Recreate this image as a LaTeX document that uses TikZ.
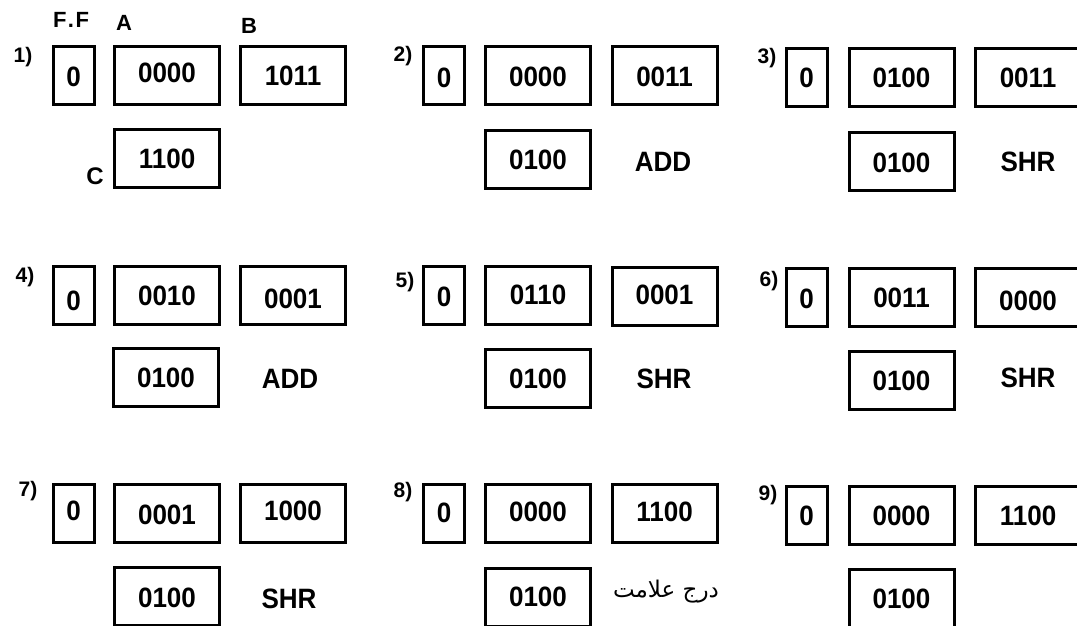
\documentclass[tikz,border=0pt]{standalone}
\usepackage{fontspec}
\setmainfont{Liberation Sans}
\newfontfamily\regfont[FakeStretch=0.93]{Liberation Sans}
\newfontfamily\arabicfont[Script=Arabic]{DejaVu Sans}
\TeXXeTstate=1
\newcommand\shiftdn[2]{\raisebox{-#1pt}[\height][\depth]{#2}}
\tikzset{
  reg/.style={draw, line width=3pt, minimum width=105pt, minimum height=58pt,
    inner sep=0pt, font=\regfont\bfseries\fontsize{28pt}{28pt}\selectfont},
  ffbox/.style={reg, minimum width=41pt},
  lab/.style={inner sep=0pt, font=\bfseries\fontsize{21pt}{21pt}\selectfont},
  hdr/.style={inner sep=0pt, font=\bfseries\fontsize{22pt}{22pt}\selectfont},
  op/.style={inner sep=0pt, font=\regfont\bfseries\fontsize{28pt}{28pt}\selectfont},
}
\begin{document}
\begin{tikzpicture}[x=1pt, y=-1pt]
\useasboundingbox (0,0) rectangle (1077,626);
\clip (0,0) rectangle (1077,626);
% header labels
\node[hdr] (hff) at (71,20) {F\kern1.5pt.\kern1.5pt F};
\node[hdr] (ha) at (124,22.5) {A};
\node[hdr] (hb) at (249,25.5) {B};
\node[hdr, font=\bfseries\fontsize{24pt}{24pt}\selectfont] (hc) at (95,176) {C};
% step numbers
\node[lab] (l1) at (23,57) {1)};
\node[lab] (l2) at (403,56) {2)};
\node[lab] (l3) at (767,58) {3)};
\node[lab] (l4) at (25,277) {4)};
\node[lab] (l5) at (405,282) {5)};
\node[lab] (l6) at (769,281) {6)};
\node[lab] (l7) at (28,491) {7)};
\node[lab] (l8) at (403,492) {8)};
\node[lab] (l9) at (768,495) {9)};
% panel 1
\node[ffbox] (p1f) at (73.5,75.5) {\shiftdn{1.5}{0}};
\node[reg] (p1a) at (167,75.5) {\shiftdn{-2.5}{0000}};
\node[reg] (p1b) at (293,75.5) {1011};
\node[reg] (p1c) at (167,158.5) {1100};
% panel 2
\node[ffbox] (p2f) at (444,75.5) {\shiftdn{2.5}{0}};
\node[reg] (p2a) at (538,75.5) {\shiftdn{1.5}{0000}};
\node[reg] (p2b) at (664.5,75.5) {\shiftdn{1.5}{0011}};
\node[reg] (p2c) at (538,159) {\shiftdn{1}{0100}};
\node[op] (o2) at (663,162) {ADD};
% panel 3
\node[ffbox] (p3f) at (806.5,77.5) {0};
\node[reg] (p3a) at (901.5,77.5) {0100};
\node[reg] (p3b) at (1028,77.5) {0011};
\node[reg] (p3c) at (901.5,161) {\shiftdn{2}{0100}};
\node[op] (o3) at (1028,162) {SHR};
% panel 4
\node[ffbox] (p4f) at (73.5,295.5) {\shiftdn{5}{0}};
\node[reg] (p4a) at (167,295.5) {0010};
\node[reg] (p4b) at (293,295.5) {\shiftdn{3.5}{0001}};
\node[reg] (p4c) at (166,377.5) {0100};
\node[op] (o4) at (290,379) {ADD};
% panel 5
\node[ffbox] (p5f) at (444,295) {\shiftdn{2}{0}};
\node[reg] (p5a) at (538,295) {0110};
\node[reg] (p5b) at (664.5,296) {\shiftdn{-1}{0001}};
\node[reg] (p5c) at (538,378.5) {0100};
\node[op] (o5) at (664,379) {SHR};
% panel 6
\node[ffbox] (p6f) at (806.5,297.5) {\shiftdn{1.5}{0}};
\node[reg] (p6a) at (901.5,297.5) {0011};
\node[reg] (p6b) at (1028,297.5) {\shiftdn{3}{0000}};
\node[reg] (p6c) at (901.5,380.5) {0100};
\node[op] (o6) at (1028,378) {SHR};
% panel 7
\node[ffbox] (p7f) at (73.5,513) {\shiftdn{-2}{0}};
\node[reg] (p7a) at (167,513) {\shiftdn{2}{0001}};
\node[reg] (p7b) at (293,513) {\shiftdn{-2}{1000}};
\node[reg] (p7c) at (167,596) {\shiftdn{1.5}{0100}};
\node[op] (o7) at (289,599) {SHR};
% panel 8
\node[ffbox] (p8f) at (444,513) {0};
\node[reg] (p8a) at (538,513) {\shiftdn{-1}{0000}};
\node[reg] (p8b) at (664.5,513) {\shiftdn{-1}{1100}};
\node[reg] (p8c) at (538,597) {0100};
\node[inner sep=0pt, font=\arabicfont\fontsize{23pt}{23pt}\selectfont] (o8) at (666,592) {\beginR درج علامت\endR};
% panel 9
\node[ffbox] (p9f) at (806.5,515.5) {0};
\node[reg] (p9a) at (901.5,515.5) {0000};
\node[reg] (p9b) at (1028,515.5) {1100};
\node[reg] (p9c) at (901.5,598) {\shiftdn{1}{0100}};
\end{tikzpicture}
\end{document}
